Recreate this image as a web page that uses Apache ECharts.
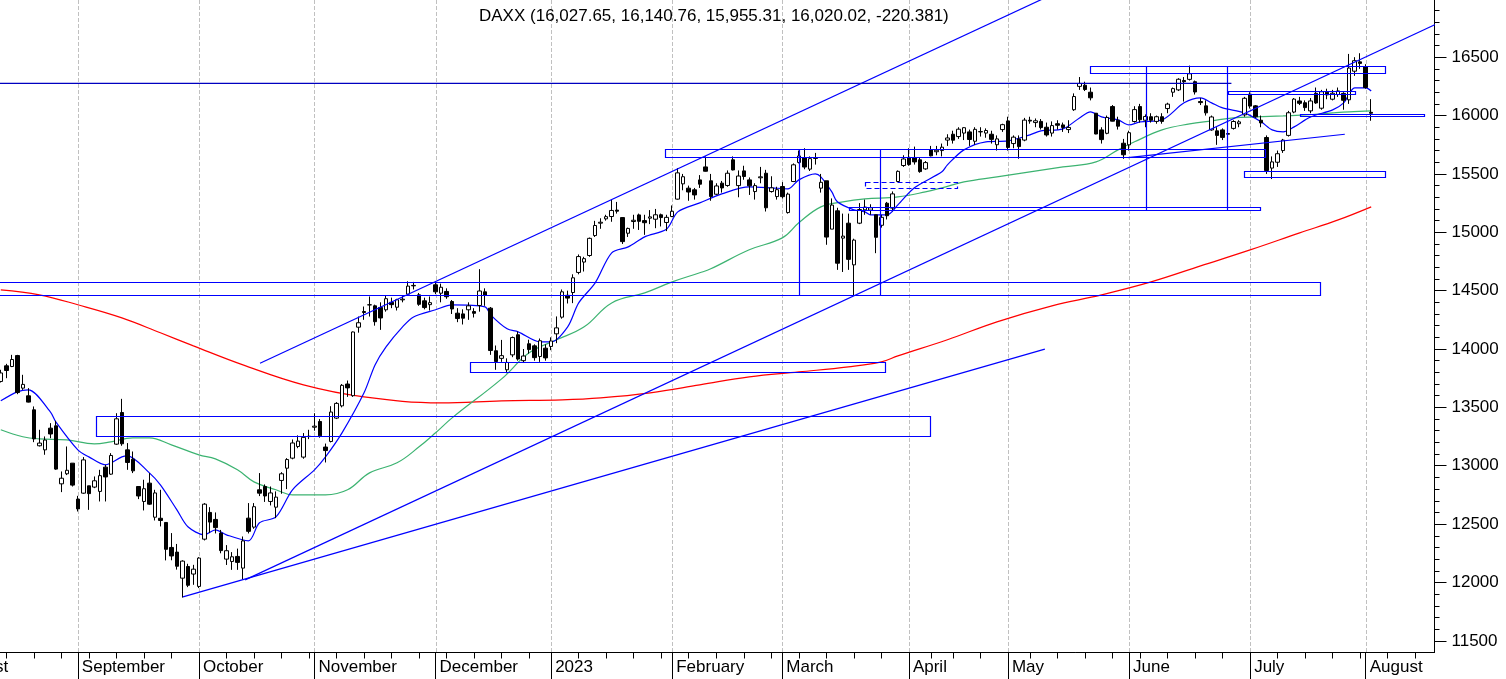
<!DOCTYPE html>
<html>
<head>
<meta charset="utf-8">
<title>DAXX</title>
<script src="https://cdn.jsdelivr.net/npm/echarts@6/dist/echarts.min.js"></script>
<style>
html, body { margin: 0; padding: 0; background: #fff; }
#chart { width: 1506px; height: 679px; }
</style>
</head>
<body>
<div id="chart"></div>
<script>
// trading days on the axis (Xetra calendar)
var firstDay = '2022-08-01';
var lastDay = '2023-08-17';
var firstCandle = '2022-08-12';
var holidays = ['2022-12-26', '2023-04-07', '2023-04-10', '2023-05-01'];
var monthNames = ['2023', 'February', 'March', 'April', 'May', 'June', 'July',
  'August', 'September', 'October', 'November', 'December'];
var yLabels = [11500, 12000, 12500, 13000, 13500, 14000, 14500, 15000, 15500, 16000, 16500];

// daily candles from 2022-08-12 to 2023-08-02
var open = [
  13722, 13856, 13850, 13944, 13665, 13599, 13479, 13171, 13136, 13322,
  13342, 12845, 12931, 13022, 12714, 12765, 12828, 12817, 12780, 12988,
  12928, 13185, 13456, 13136, 13056, 12822, 12694, 12851, 12559, 12550,
  12514, 12300, 12260, 12037, 12137, 12072, 11966, 12371, 12600, 12540,
  12423, 12200, 12180, 12223, 12123, 12551, 12474, 12794, 12822, 12694,
  12645, 12874, 12979, 13065, 13165, 13074, 13250, 13330, 13379, 13160,
  13208, 13408, 13513, 13700, 13600, 14187, 14321, 14378, 14370, 14356,
  14336, 14400, 14358, 14421, 14470, 14545, 14464, 14413, 14380, 14550,
  14478, 14493, 14407, 14307, 14301, 14336, 14321, 14373, 14490, 14350,
  13985, 13920, 13822, 13950, 14122, 13900, 14045, 14027, 13936, 14007,
  14022, 14130, 14273, 14460, 14484, 14656, 14745, 14801, 14972, 15078,
  15115, 15135, 15190, 15126, 14992, 15092, 15149, 15100, 15121, 15112,
  15150, 15084, 15135, 15284, 15415, 15378, 15364, 15449, 15560, 15441,
  15326, 15421, 15401, 15621, 15400, 15526, 15449, 15349, 15467, 15506,
  15349, 15306, 15392, 15169, 15435, 15598, 15640, 15541, 15640, 15378,
  15441, 15027, 15184, 14950, 15078, 14721, 15078, 15192, 15190, 15150,
  15060, 15249, 15207, 15435, 15572, 15641, 15641, 15621, 15543, 15706,
  15690, 15700, 15790, 15840, 15820, 15850, 15860, 15780, 15860, 15850,
  15840, 15750, 15880, 15954, 15760, 15800, 15790, 15960, 15940, 15950,
  15900, 15850, 15930, 15920, 15880, 16050, 16250, 16260, 16200, 16020,
  15877, 15848, 16077, 15960, 15763, 15749, 15949, 16077, 15960, 15990,
  15950, 15990, 16060, 16200, 16220, 16300, 16310, 16290, 16120, 16083,
  15877, 15869, 15877, 15840, 15890, 15930, 16006, 16183, 16083, 15960,
  15812, 15550, 15600, 15700, 15830, 16030, 16125, 16110, 16040, 16191,
  16063, 16200, 16140, 16180, 16190, 16135, 16380, 16460, 16420, 16027.65
];
var high = [
  13822, 13873, 13950, 13950, 13779, 13665, 13508, 13308, 13251, 13365,
  13385, 12951, 13165, 13022, 12742, 13074, 12828, 12908, 12965, 13008,
  13108, 13450, 13573, 13194, 13122, 12822, 12880, 12937, 12794, 12794,
  12514, 12423, 12330, 12190, 12160, 12151, 12217, 12680, 12645, 12600,
  12450, 12320, 12260, 12290, 12394, 12680, 12680, 12937, 12840, 12822,
  12780, 12945, 13065, 13225, 13260, 13280, 13308, 13450, 13400, 13190,
  13510, 13545, 13700, 13730, 14150, 14278, 14364, 14450, 14380, 14400,
  14460, 14440, 14430, 14460, 14580, 14575, 14480, 14440, 14450, 14580,
  14560, 14520, 14420, 14350, 14340, 14400, 14350, 14684, 14520, 14360,
  14030, 14078, 13920, 14107, 14150, 14000, 14080, 14040, 14090, 14040,
  14100, 14279, 14510, 14500, 14640, 14810, 14790, 14955, 15098, 15120,
  15150, 15278, 15260, 15130, 15040, 15150, 15160, 15150, 15190, 15200,
  15160, 15150, 15230, 15550, 15500, 15400, 15380, 15490, 15650, 15500,
  15420, 15440, 15530, 15650, 15530, 15570, 15470, 15420, 15560, 15535,
  15480, 15390, 15430, 15340, 15590, 15700, 15720, 15650, 15680, 15500,
  15441, 15290, 15210, 15160, 15160, 14945, 15250, 15280, 15240, 15150,
  15150, 15260, 15350, 15530, 15660, 15720, 15734, 15640, 15610, 15740,
  15740, 15760, 15840, 15870, 15900, 15900, 15880, 15900, 15900, 15890,
  15870, 15830, 15930, 15990, 15830, 15830, 15980, 15990, 15975, 15970,
  15940, 15950, 15960, 15940, 15960, 16190, 16330, 16290, 16240, 16020,
  15900, 16000, 16090, 15990, 15800, 15870, 16080, 16100, 16010, 16020,
  16000, 16020, 16110, 16240, 16320, 16330, 16428, 16300, 16150, 16130,
  16000, 15900, 15890, 15870, 15960, 15960, 16160, 16200, 16090, 16000,
  15830, 15650, 15700, 15800, 16040, 16150, 16160, 16130, 16150, 16240,
  16220, 16230, 16220, 16240, 16200, 16528, 16500, 16534, 16440, 16140.76
];
var low = [
  13713, 13750, 13845, 13613, 13650, 13542, 13202, 13165, 13094, 13236,
  12965, 12774, 12920, 12822, 12608, 12760, 12622, 12808, 12694, 12694,
  12922, 13179, 13171, 12965, 12937, 12714, 12617, 12665, 12531, 12480,
  12189, 12190, 12110, 11870, 11960, 11980, 11952, 12360, 12423, 12420,
  12250, 12150, 12108, 12108, 12025, 12420, 12460, 12740, 12690, 12660,
  12551, 12760, 12800, 13055, 13150, 13060, 13228, 13300, 13240, 13028,
  13200, 13400, 13500, 13590, 13590, 14140, 14250, 14278, 14200, 14164,
  14320, 14350, 14330, 14400, 14460, 14510, 14370, 14340, 14330, 14470,
  14400, 14430, 14300, 14230, 14210, 14250, 14270, 14320, 14370, 13950,
  13822, 13890, 13793, 13930, 13900, 13880, 13960, 13900, 13890, 13900,
  13990, 14050, 14260, 14390, 14393, 14640, 14664, 14790, 14960, 15030,
  15100, 15090, 15160, 14900, 14960, 15030, 15020, 14978, 15070, 15035,
  15050, 15010, 15130, 15280, 15360, 15270, 15280, 15380, 15520, 15270,
  15320, 15340, 15390, 15530, 15300, 15450, 15320, 15280, 15420, 15178,
  15340, 15280, 15290, 15160, 15430, 15590, 15540, 15525, 15580, 15340,
  14893, 15027, 14678, 14660, 14678, 14458, 15070, 15150, 15150, 14821,
  15040, 15110, 15180, 15430, 15560, 15570, 15580, 15510, 15535, 15650,
  15660, 15650, 15740, 15760, 15800, 15790, 15740, 15750, 15820, 15810,
  15760, 15700, 15860, 15700, 15720, 15630, 15780, 15930, 15900, 15880,
  15820, 15820, 15880, 15860, 15850, 16040, 16220, 16210, 16130, 15840,
  15760, 15840, 15950, 15880, 15629, 15700, 15940, 15940, 15900, 15940,
  15930, 15930, 16020, 16160, 16210, 16120, 16300, 16180, 16090, 16000,
  15870, 15749, 15790, 15720, 15880, 15900, 15990, 16060, 15980, 15900,
  15500, 15456, 15560, 15680, 15820, 16020, 16090, 16040, 16020, 16100,
  16050, 16140, 16130, 16160, 16050, 16100, 16340, 16400, 16230, 15955.31
];
var close = [
  13795, 13816, 13910, 13627, 13697, 13545, 13230, 13194, 13220, 13272,
  12971, 12893, 12961, 12834, 12630, 13050, 12761, 12871, 12915, 12904,
  13088, 13402, 13188, 13028, 12956, 12741, 12803, 12671, 12767, 12531,
  12284, 12227, 12139, 12183, 11976, 12114, 12209, 12671, 12517, 12470,
  12273, 12272, 12220, 12172, 12356, 12438, 12649, 12765, 12741, 12767,
  12731, 12931, 13053, 13195, 13211, 13243, 13253, 13339, 13256, 13130,
  13460, 13534, 13689, 13667, 14146, 14225, 14313, 14379, 14234, 14266,
  14431, 14380, 14422, 14427, 14539, 14541, 14383, 14355, 14397, 14490,
  14529, 14448, 14343, 14261, 14264, 14370, 14306, 14497, 14461, 13987,
  13893, 13943, 13885, 14098, 13914, 13940, 13995, 13926, 14071, 13924,
  14069, 14181, 14490, 14436, 14610, 14792, 14774, 14948, 15058, 15086,
  15134, 15187, 15181, 14920, 15033, 15103, 15094, 15082, 15132, 15150,
  15126, 15128, 15180, 15509, 15476, 15345, 15320, 15412, 15523, 15307,
  15397, 15380, 15506, 15534, 15482, 15478, 15398, 15400, 15475, 15210,
  15381, 15365, 15305, 15327, 15578, 15654, 15559, 15631, 15633, 15428,
  14959, 15233, 14735, 14967, 14768, 14933, 15195, 15216, 15210, 14957,
  15128, 15142, 15329, 15522, 15628, 15581, 15603, 15520, 15597, 15655,
  15703, 15729, 15808, 15789, 15883, 15896, 15795, 15882, 15863, 15872,
  15796, 15800, 15922, 15727, 15815, 15734, 15961, 15953, 15955, 15897,
  15834, 15914, 15917, 15898, 15898, 16163, 16275, 16223, 16152, 15842,
  15794, 15984, 15952, 15909, 15664, 15853, 16051, 15964, 15992, 15960,
  15990, 15950, 16098, 16231, 16311, 16290, 16358, 16202, 16111, 16023,
  15988, 15830, 15813, 15846, 15949, 15946, 16148, 16081, 15989, 15937,
  15529, 15603, 15673, 15790, 16024, 16141, 16105, 16068, 16125, 16108,
  16204, 16177, 16191, 16211, 16131, 16407, 16470, 16447, 16240, 16020.02
];

// moving averages: [candle index, level]
var maSlow = [
  [0, 14507], [7, 14464], [14, 14379], [22, 14267], [29, 14139], [35, 14027],
  [44, 13864], [55, 13693], [66, 13590], [80, 13539], [91, 13556], [102, 13565],
  [109, 13582], [118, 13625], [127, 13693], [136, 13762], [145, 13804], [154, 13847],
  [160, 13890], [163, 13941], [172, 14079], [181, 14233], [191, 14370], [200, 14464],
  [209, 14575], [218, 14712], [227, 14849], [236, 14995], [243, 15106], [249, 15218]
];
var maMid = [
  [0, 13308], [4, 13248], [7, 13230], [12, 13222], [17, 13188], [20, 13205],
  [24, 13239], [27, 13239], [31, 13179], [36, 13093], [39, 13059], [43, 12965],
  [46, 12862], [50, 12794], [53, 12751], [59, 12751], [63, 12794], [67, 12939],
  [72, 13025], [76, 13162], [79, 13282], [82, 13410], [91, 13744], [96, 13967],
  [101, 14079], [106, 14190], [111, 14395], [117, 14481], [122, 14575], [127, 14653],
  [129, 14687], [136, 14850], [142, 14952], [145, 15081], [149, 15218], [153, 15261],
  [157, 15286], [163, 15303], [168, 15346], [171, 15381], [175, 15432], [181, 15475],
  [187, 15518], [193, 15560], [199, 15603], [203, 15706], [206, 15775], [211, 15877],
  [216, 15929], [220, 15955], [224, 15980], [228, 15989], [233, 15997], [237, 16006],
  [242, 16023], [245, 16032], [249, 16040]
];
var maFast = [
  [0, 13556], [3, 13633], [5, 13650], [9, 13462], [10, 13376], [14, 13136],
  [16, 13076], [19, 13008], [22, 13076], [23, 13085], [27, 12939], [29, 12836],
  [32, 12622], [34, 12477], [37, 12408], [39, 12451], [41, 12408], [45, 12357],
  [47, 12511], [50, 12562], [53, 12794], [57, 12965], [59, 13076], [62, 13282],
  [66, 13625], [68, 13864], [70, 14019], [73, 14190], [75, 14275], [79, 14336],
  [82, 14378], [88, 14361], [89, 14293], [92, 14173], [94, 14147], [98, 14061],
  [100, 14061], [103, 14190], [105, 14395], [108, 14567], [111, 14824], [114, 14875],
  [117, 14961], [121, 15029], [123, 15175], [127, 15252], [131, 15329], [136, 15389],
  [140, 15381], [143, 15372], [145, 15449], [148, 15500], [149, 15475], [151, 15346],
  [152, 15261], [155, 15192], [157, 15175], [158, 15149], [161, 15149], [163, 15235],
  [166, 15381], [171, 15518], [172, 15578], [175, 15706], [179, 15775], [183, 15783],
  [187, 15835], [189, 15869], [193, 15886], [196, 15980], [198, 16032], [200, 15989],
  [203, 15963], [205, 15920], [207, 15946], [211, 15963], [215, 16109], [218, 16152],
  [220, 16109], [222, 16066], [226, 16023], [229, 15946], [231, 15877], [233, 15860],
  [235, 15903], [238, 15989], [242, 16049], [244, 16109], [246, 16237], [248, 16237],
  [249, 16211]
];

// drawn support / resistance: [index, level, index, level]
var boxes = [
  [197.9, 16427, 251.5, 16371],
  [208.1, 16427, 222.9, 15191],
  [120.7, 15711, 229.7, 15639],
  [-12, 14577, 239.7, 14469],
  [85.3, 13892, 160.7, 13806],
  [17.3, 13427, 168.8, 13258],
  [145.1, 15711, 159.9, 14463],
  [154.2, 15214, 228.8, 15187],
  [225.9, 15525, 251.5, 15471],
  [222.9, 16213, 246.0, 16191],
  [236.1, 16013, 258.6, 15992]
];
var dashedBoxes = [
  [157.0, 15434, 173.7, 15380]
];
var trendLines = [
  [47.1, 13878, 192.4, 17067],
  [44.4, 12022, 263.3, 16839],
  [33.1, 11876, 189.7, 13999],
  [204.8, 15640, 244.2, 15840]
];
var levelLines = [
  [-12, 16276, 223.6, 16276]
];

var yMin = 11400, yMax = 16990;

function tradingDays(from, to, skip) {
  var out = [];
  var d = new Date(from + 'T00:00:00Z');
  var end = new Date(to + 'T00:00:00Z');
  while (d <= end) {
    var s = d.toISOString().slice(0, 10);
    var w = d.getUTCDay();
    if (w !== 0 && w !== 6 && skip.indexOf(s) < 0) out.push(s);
    d.setUTCDate(d.getUTCDate() + 1);
  }
  return out;
}

var days = tradingDays(firstDay, lastDay, holidays);
var lead = days.indexOf(firstCandle);

function monthOf(s) { return +s.slice(5, 7); }
function dayNum(s) { return Date.parse(s + 'T00:00:00Z') / 86400000; }
function isMonthStart(k) {
  return k === 0 || monthOf(days[k]) !== monthOf(days[k - 1]);
}
function isWeekStart(k) {
  if (k === 0) return true;
  var a = new Date(days[k - 1] + 'T00:00:00Z').getUTCDay();
  var b = new Date(days[k] + 'T00:00:00Z').getUTCDay();
  return b <= a || dayNum(days[k]) - dayNum(days[k - 1]) >= 7;
}

var candles = open.map(function (o, i) {
  return [i + lead, o, close[i], low[i], high[i]];
});
var monthLines = [];
days.forEach(function (d, k) { if (isMonthStart(k)) monthLines.push([k - lead]); });
// minor price ticks every 100 between the labelled levels
var minorTicks = [];
for (var t = yLabels[0]; t < yMax; t += 100) minorTicks.push(t);

function rectItem(dash) {
  return function (params, api) {
    var a = api.coord([api.value(0), api.value(1)]);
    var b = api.coord([api.value(2), api.value(3)]);
    var style = { fill: 'none', stroke: '#0000ff', lineWidth: 1.2 };
    if (dash) style.lineDash = dash;
    return {
      type: 'rect',
      shape: {
        x: Math.round(Math.min(a[0], b[0])) + 0.5,
        y: Math.round(Math.min(a[1], b[1])) + 0.5,
        width: Math.round(Math.abs(b[0] - a[0])),
        height: Math.round(Math.abs(b[1] - a[1]))
      },
      style: style
    };
  };
}
function lineItem(color) {
  return function (params, api) {
    var a = api.coord([api.value(0), api.value(1)]);
    var b = api.coord([api.value(2), api.value(3)]);
    return {
      type: 'line',
      shape: { x1: a[0], y1: a[1], x2: b[0], y2: b[1] },
      style: { stroke: color, lineWidth: 1.2 }
    };
  };
}
function gridItem(params, api) {
  var a = api.coord([api.value(0), yMax]);
  var b = api.coord([api.value(0), yMin]);
  var x = Math.round(a[0]) + 0.5;
  return {
    type: 'line',
    shape: { x1: x, y1: a[1], x2: x, y2: b[1] },
    style: { stroke: '#c0c0c0', lineWidth: 1, lineDash: [4, 2] }
  };
}

var font = 'Liberation Sans, Arial, sans-serif';
var chart = echarts.init(document.getElementById('chart'));
var option = {
  animation: false,
  backgroundColor: '#fff',
  title: {
    text: 'DAXX (16,027.65, 16,140.76, 15,955.31, 16,020.02, -220.381)',
    left: 479,
    top: 8,
    padding: 0,
    textStyle: { fontSize: 17, fontWeight: 'normal', color: '#000', fontFamily: font }
  },
  grid: {
    left: -51.5,
    right: 71.5,
    top: 0,
    bottom: 26.5,
    outerBoundsMode: 'none'
  },
  xAxis: [{
    type: 'category',
    position: 'bottom',
    data: days,
    axisLine: { show: false, onZero: false },
    axisTick: {
      show: true, alignWithLabel: true, length: 6,
      interval: function (k) { return isWeekStart(k); },
      lineStyle: { color: '#000' }
    },
    axisLabel: { show: false },
    splitLine: { show: false }
  }, {
    type: 'category',
    position: 'bottom',
    data: days,
    axisLine: { show: true, onZero: false, lineStyle: { color: '#000', width: 1 } },
    axisTick: {
      show: true, alignWithLabel: true, length: 27,
      interval: function (k) { return isMonthStart(k); },
      lineStyle: { color: '#000' }
    },
    axisLabel: {
      show: true,
      interval: function (k) { return isMonthStart(k); },
      formatter: function (v) { return monthNames[monthOf(v) - 1]; },
      align: 'left',
      padding: [0, 0, 0, 4],
      margin: 6,
      fontSize: 17,
      color: '#000',
      fontFamily: font
    },
    splitLine: { show: false }
  }, {
    type: 'value',
    position: 'top',
    show: false,
    min: -lead - 0.5,
    max: days.length - lead - 0.5,
    axisLine: { show: false, onZero: false },
    axisTick: { show: false },
    axisLabel: { show: false },
    splitLine: { show: false }
  }],
  yAxis: [{
    type: 'value',
    position: 'right',
    min: yMin,
    max: yMax,
    axisLine: { show: true, onZero: false, lineStyle: { color: '#000' } },
    axisTick: { show: true, length: 5, customValues: minorTicks, lineStyle: { color: '#000' } },
    axisLabel: {
      customValues: yLabels,
      formatter: function (v) { return String(v); },
      margin: 17,
      fontSize: 17,
      color: '#000',
      fontFamily: font
    },
    splitLine: { show: false }
  }, {
    type: 'value',
    position: 'right',
    min: yMin,
    max: yMax,
    axisLine: { show: false, onZero: false },
    axisTick: { show: true, length: 12, customValues: yLabels, lineStyle: { color: '#000' } },
    axisLabel: { show: false },
    splitLine: { show: false }
  }],
  series: [{
    name: 'months',
    type: 'custom',
    xAxisIndex: 2,
    yAxisIndex: 0,
    data: monthLines,
    renderItem: gridItem,
    silent: true,
    z: 1
  }, {
    name: 'slow',
    type: 'line',
    xAxisIndex: 2,
    yAxisIndex: 0,
    data: maSlow,
    showSymbol: false,
    smooth: 0.4,
    lineStyle: { color: '#ff0000', width: 1.2 },
    silent: true,
    z: 2
  }, {
    name: 'mid',
    type: 'line',
    xAxisIndex: 2,
    yAxisIndex: 0,
    data: maMid,
    showSymbol: false,
    smooth: 0.4,
    lineStyle: { color: '#3cb371', width: 1.2 },
    silent: true,
    z: 2
  }, {
    name: 'fast',
    type: 'line',
    xAxisIndex: 2,
    yAxisIndex: 0,
    data: maFast,
    showSymbol: false,
    smooth: 0.3,
    lineStyle: { color: '#0000ff', width: 1.2 },
    silent: true,
    z: 2
  }, {
    name: 'DAXX',
    type: 'candlestick',
    xAxisIndex: 0,
    yAxisIndex: 0,
    data: candles,
    encode: { x: 0, y: [1, 2, 3, 4] },
    barWidth: 4,
    itemStyle: {
      color: '#ffffff',
      color0: '#000000',
      borderColor: '#000000',
      borderColor0: '#000000',
      borderWidth: 1
    },
    silent: true,
    z: 3
  }, {
    name: 'boxes',
    type: 'custom',
    xAxisIndex: 2,
    yAxisIndex: 0,
    data: boxes,
    renderItem: rectItem(null),
    clip: true,
    silent: true,
    z: 4
  }, {
    name: 'dashed',
    type: 'custom',
    xAxisIndex: 2,
    yAxisIndex: 0,
    data: dashedBoxes,
    renderItem: rectItem([5, 3]),
    clip: true,
    silent: true,
    z: 4
  }, {
    name: 'trends',
    type: 'custom',
    xAxisIndex: 2,
    yAxisIndex: 0,
    data: trendLines,
    renderItem: lineItem('#0000ff'),
    clip: true,
    silent: true,
    z: 4
  }, {
    name: 'levels',
    type: 'custom',
    xAxisIndex: 2,
    yAxisIndex: 0,
    data: levelLines,
    renderItem: lineItem('#0000c0'),
    clip: true,
    silent: true,
    z: 4
  }]
};
chart.setOption(option);
</script>
</body>
</html>
